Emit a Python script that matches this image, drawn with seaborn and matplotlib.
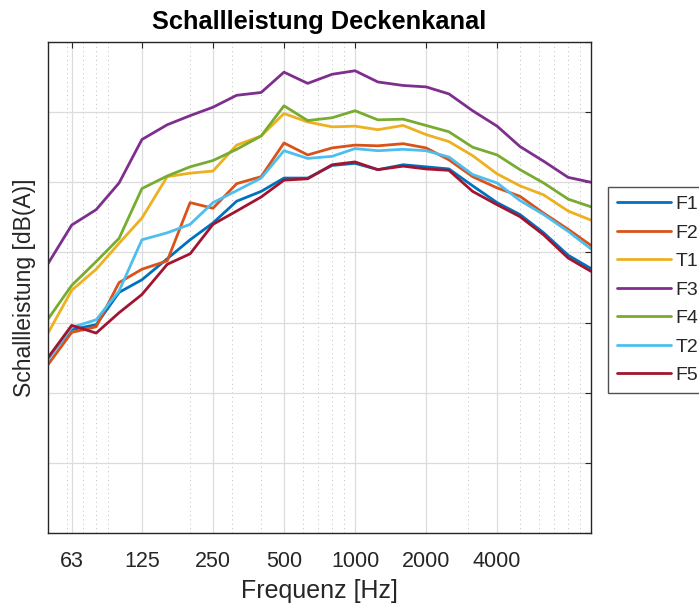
import numpy as np
import pandas as pd
import seaborn as sns
import matplotlib
matplotlib.use("Agg")
import matplotlib.pyplot as plt
from matplotlib.ticker import FixedLocator, LogLocator, NullFormatter, FixedFormatter

# Third-octave band centre frequencies [Hz]
freqs = [50, 63, 80, 100, 125, 160, 200, 250, 315, 400, 500, 630, 800,
         1000, 1250, 1600, 2000, 2500, 3150, 4000, 5000, 6300, 8000, 10000]

# Sound power per band [dB(A)]
F1 = [45.0, 49.0, 49.7, 54.3, 56.1, 59.1, 61.8, 64.2, 67.3, 68.7, 70.6, 70.6,
      72.4, 72.7, 71.8, 72.5, 72.2, 71.9, 69.5, 67.1, 65.4, 62.8, 59.6, 57.7]
F2 = [44.0, 48.6, 49.4, 55.7, 57.6, 58.8, 67.1, 66.3, 69.8, 70.8, 75.6, 73.9,
      74.9, 75.3, 75.2, 75.5, 74.9, 73.2, 70.8, 69.2, 68.0, 65.6, 63.3, 61.0]
T1 = [48.5, 54.6, 57.6, 61.3, 64.9, 70.8, 71.3, 71.6, 75.3, 76.6, 79.8, 78.6,
      77.9, 78.0, 77.5, 78.1, 76.8, 75.8, 73.8, 71.2, 69.5, 68.2, 65.9, 64.6]
F3 = [58.4, 63.9, 66.1, 69.9, 76.1, 78.2, 79.5, 80.7, 82.4, 82.8, 85.7, 84.1,
      85.4, 85.9, 84.3, 83.8, 83.6, 82.6, 80.2, 78.0, 75.1, 73.0, 70.7, 70.0]
F4 = [50.5, 55.3, 58.7, 62.0, 69.1, 70.9, 72.2, 73.1, 74.7, 76.6, 80.9, 78.8,
      79.2, 80.2, 78.9, 79.0, 78.1, 77.2, 75.0, 73.9, 71.8, 69.9, 67.6, 66.5]
T2 = [44.7, 49.3, 50.4, 54.5, 61.8, 62.8, 64.0, 67.1, 68.8, 70.6, 74.5, 73.4,
      73.7, 74.8, 74.5, 74.7, 74.5, 73.6, 71.1, 69.9, 67.4, 65.4, 63.0, 60.5]
F5 = [45.0, 49.6, 48.5, 51.4, 54.0, 58.3, 59.8, 64.0, 65.9, 67.9, 70.3, 70.5,
      72.5, 72.9, 71.8, 72.3, 71.9, 71.7, 68.7, 66.8, 65.1, 62.5, 59.2, 57.3]

series_names = ["F1", "F2", "T1", "F3", "F4", "T2", "F5"]
series_values = [F1, F2, T1, F3, F4, T2, F5]
colors = ["#0072BD", "#D95319", "#EDB120", "#7E2F8E", "#77AC30", "#4DBEEE", "#A2142F"]

xtick_values = [63, 125, 250, 500, 1000, 2000, 4000]
xtick_labels = ["63", "125", "250", "500", "1000", "2000", "4000"]

df = pd.DataFrame({
    "Frequenz": np.tile(freqs, len(series_names)),
    "Pegel": np.concatenate(series_values),
    "Serie": np.repeat(series_names, len(freqs)),
})

sns.set_style("white")
plt.rcParams["font.family"] = ["Liberation Sans", "DejaVu Sans"]

fig = plt.figure(figsize=(6.99, 6.06), dpi=100)
ax = fig.add_axes([0.0687, 0.1205, 0.7768, 0.8102])

sns.lineplot(data=df, x="Frequenz", y="Pegel", hue="Serie", hue_order=series_names,
             palette=colors, linewidth=2.0, ax=ax, legend=True, sort=False)

ax.set_xscale("log")
ax.set_xlim(50, 10000)
ax.set_ylim(20, 90)

ax.xaxis.set_major_locator(FixedLocator(xtick_values))
ax.xaxis.set_major_formatter(FixedFormatter(xtick_labels))
ax.xaxis.set_minor_locator(LogLocator(base=10, subs=np.arange(2, 10), numticks=20))
ax.xaxis.set_minor_formatter(NullFormatter())
ax.set_yticks(np.arange(20, 91, 10))
ax.set_yticklabels([])

ax.grid(True, which="major", color="#dcdcdc", linewidth=0.9, linestyle="-")
ax.grid(True, which="minor", axis="x", color="#bdbdbd", linewidth=0.7, linestyle=(0, (1, 3.5)))
ax.set_axisbelow(True)

ax.tick_params(axis="both", which="major", direction="in", length=4, width=0.8,
               color="#262626", top=True, right=True, labelsize=15.5,
               labelcolor="#262626")
ax.tick_params(axis="x", which="major", pad=13)
ax.tick_params(axis="y", which="major", pad=1)
ax.tick_params(axis="x", which="minor", length=0, top=False, bottom=False)

for sp in ax.spines.values():
    sp.set_color("#262626")
    sp.set_linewidth(1.0)
    sp.set_visible(True)

ax.set_title("Schallleistung Deckenkanal", fontsize=18.3, fontweight="bold", pad=9,
             color="black")
ax.set_xlabel("Frequenz [Hz]", fontsize=18, color="#262626", labelpad=5)
ax.set_ylabel("Schallleistung [dB(A)]", fontsize=16.5, color="#262626", labelpad=8)

leg = ax.legend(loc="upper left", bbox_to_anchor=(0.870, 0.692),
                bbox_transform=fig.transFigure, fontsize=14, frameon=True,
                fancybox=False, edgecolor="#262626", handlelength=2.8,
                handletextpad=0.2, labelspacing=0.56, borderpad=0.45,
                borderaxespad=0)
leg.get_frame().set_linewidth(1.0)
for line in leg.get_lines():
    line.set_linewidth(2.0)

fig.savefig("out.png", dpi=100)
